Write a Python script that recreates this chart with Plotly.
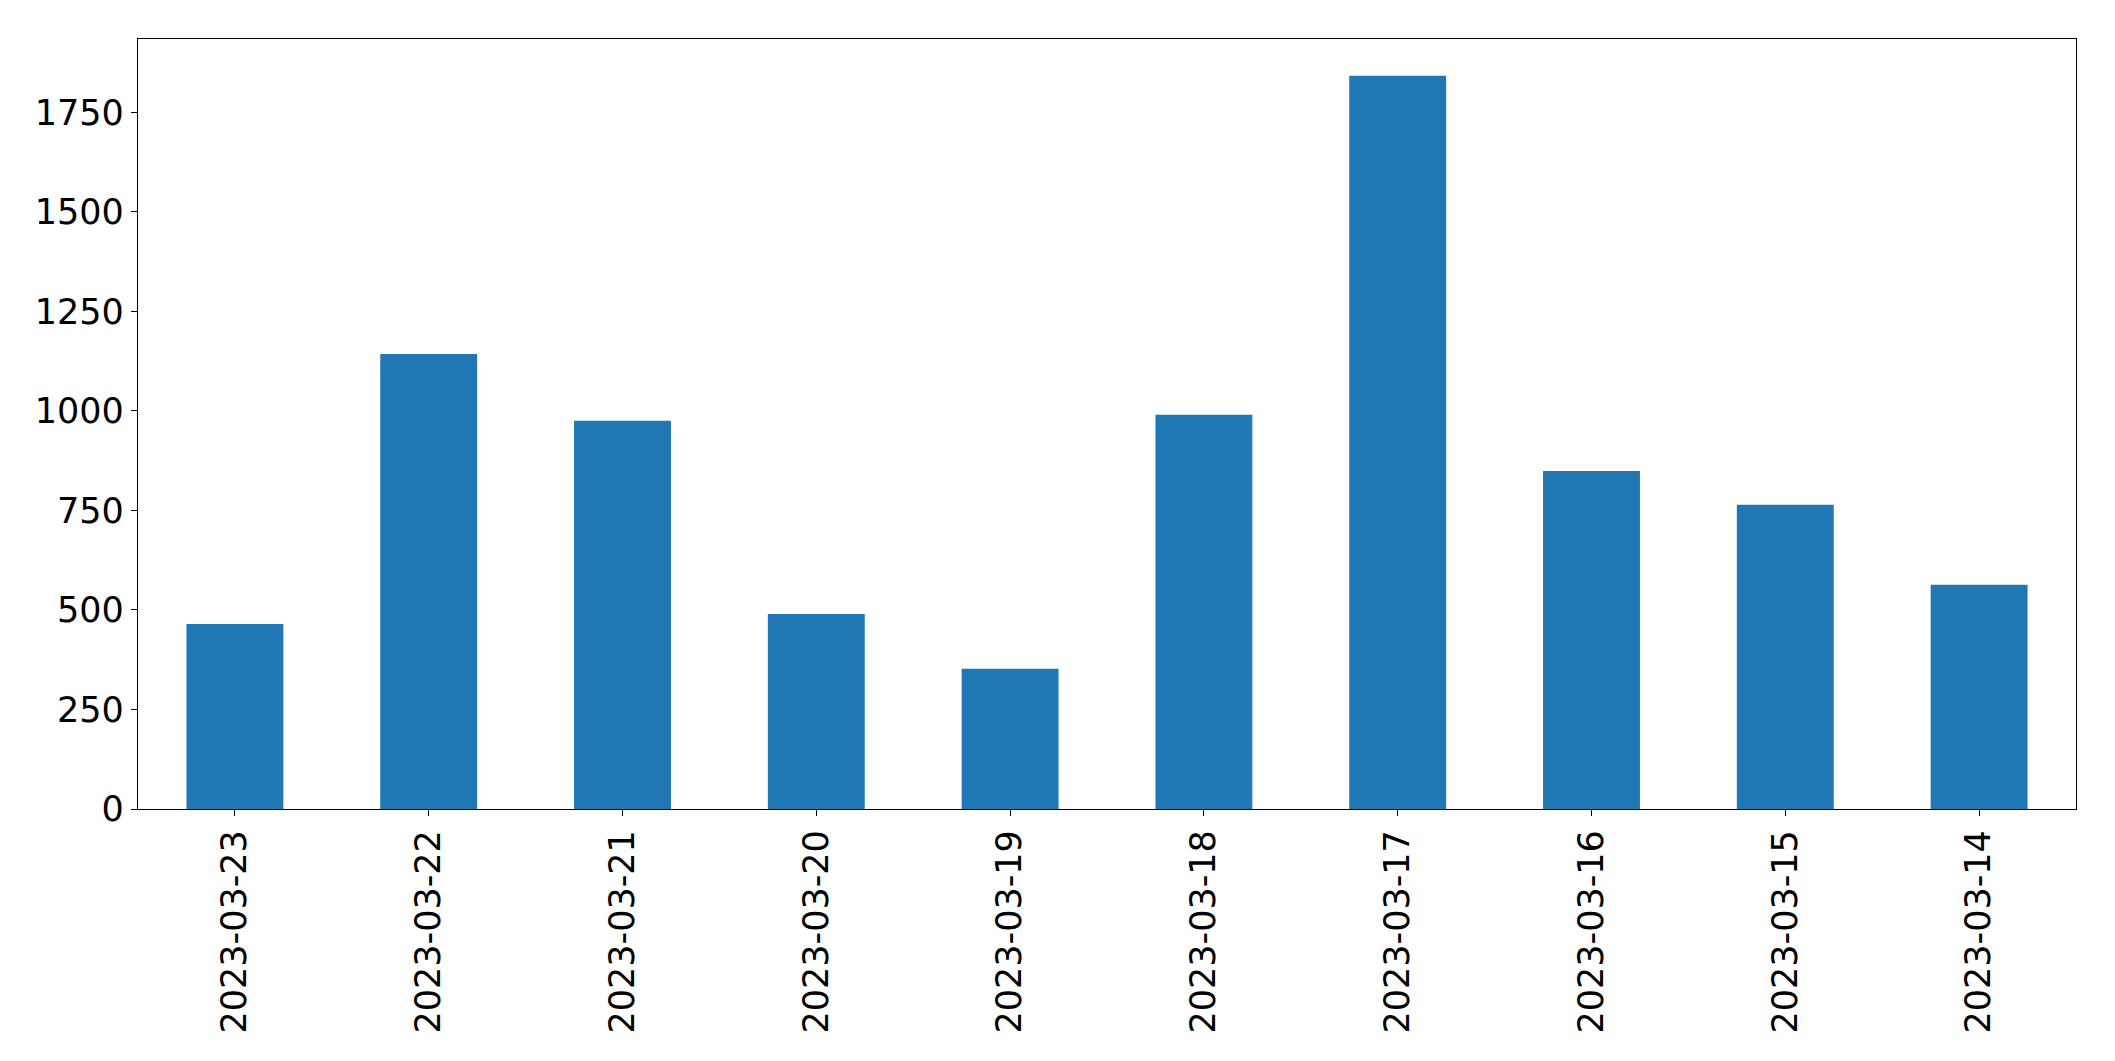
import plotly.graph_objects as go

dates = ["2023-03-23", "2023-03-22", "2023-03-21", "2023-03-20", "2023-03-19",
         "2023-03-18", "2023-03-17", "2023-03-16", "2023-03-15", "2023-03-14"]
values = [465, 1143, 975, 490, 352, 990, 1842, 849, 764, 563]
ytick_vals = [0, 250, 500, 750, 1000, 1250, 1500, 1750]

fig = go.Figure(go.Bar(
    x=dates, y=values, width=0.5,
    marker=dict(color="#1f77b4", line=dict(width=0)),
))

font = dict(family="DejaVu Sans", size=35, color="black")
# page body has an 8px default margin, so the figure is shrunk by 8px and margins offset
fig.update_layout(
    width=2107, height=1053,
    margin=dict(l=130, r=39, t=31, b=252, pad=0),
    paper_bgcolor="white", plot_bgcolor="white",
    showlegend=False,
    font=font,
)
fig.update_xaxes(
    type="category", range=[-0.5, len(dates) - 0.5],
    showline=True, linecolor="black", linewidth=1.3, mirror=True,
    ticks="outside", ticklen=6, tickwidth=1.3, tickcolor="black",
    tickangle=-90, showgrid=False, zeroline=False, tickfont=font,
)
fig.update_yaxes(
    range=[0, max(values) * 1.05],
    tickvals=ytick_vals, ticktext=[str(v) for v in ytick_vals],
    showline=True, linecolor="black", linewidth=1.3, mirror=True,
    ticks="outside", ticklen=6, tickwidth=1.3, tickcolor="black",
    showgrid=False, zeroline=False, tickfont=font,
)

fig.write_html("out.html")
